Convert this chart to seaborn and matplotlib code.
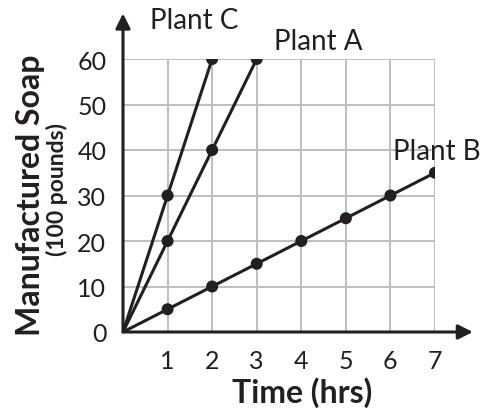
import pandas as pd
import matplotlib
matplotlib.use("Agg")
import matplotlib.pyplot as plt
import seaborn as sns

# data
hours = [0, 1, 2, 3, 4, 5, 6, 7]
plant_a = [0, 20, 40, 60]
plant_b = [0, 5, 10, 15, 20, 25, 30, 35]
plant_c = [0, 30, 60]
x_ticks = [1, 2, 3, 4, 5, 6, 7]
y_ticks = [0, 10, 20, 30, 40, 50, 60]

rows = []
for name, vals in [("Plant A", plant_a), ("Plant B", plant_b), ("Plant C", plant_c)]:
    for h, v in zip(hours, vals):
        rows.append({"plant": name, "hours": h, "soap": v})
df = pd.DataFrame(rows)

ink = "#231f20"

sns.set_style("white")
plt.rcParams["font.family"] = ["Lato", "DejaVu Sans"]

fig = plt.figure(figsize=(4.85, 4.14), dpi=100)
ax = fig.add_axes([123 / 485, 81 / 414, 312 / 485, 273 / 414])

pal = {"Plant A": ink, "Plant B": ink, "Plant C": ink}
sns.lineplot(data=df, x="hours", y="soap", hue="plant", palette=pal,
             linewidth=2.2, legend=False, ax=ax, zorder=3)
sns.scatterplot(data=df[df["hours"] > 0], x="hours", y="soap", hue="plant",
                palette=pal, s=75, edgecolor="none", legend=False, ax=ax, zorder=4)

ax.set_xlim(0, 7)
ax.set_ylim(0, 60)
ax.set_xticks(x_ticks)
ax.set_yticks(y_ticks)
ax.grid(True, color="#bcbec0", linewidth=1.4)
ax.tick_params(length=0, labelsize=18, colors=ink, pad=12)
for s in ax.spines.values():
    s.set_visible(False)

# axis arrows
arrow = dict(arrowstyle="-|>", color=ink, lw=2.2, mutation_scale=22,
             shrinkA=0, shrinkB=0)
ax.annotate("", xy=(7.85, 0), xytext=(0, 0), arrowprops=arrow, annotation_clip=False)
ax.annotate("", xy=(0, 70), xytext=(0, 0), arrowprops=arrow, annotation_clip=False)

ax.set_xlabel("")
ax.set_ylabel("")
fig.text(302 / 485, 1 - 393 / 414, "Time (hrs)", fontsize=23, fontweight="bold",
         color=ink, ha="center", va="center")
fig.text(31 / 485, 1 - 195 / 414, "Manufactured Soap", rotation=90, fontsize=23,
         fontweight="bold", color=ink, ha="center", va="center")
fig.text(57 / 485, 1 - 190 / 414, "(100 pounds)", rotation=90, fontsize=16.5,
         fontweight="bold", color=ink, ha="center", va="center")

ax.text(1.6, 66.8, "Plant C", fontsize=20, ha="center", va="baseline", color=ink)
ax.text(4.38, 62.2, "Plant A", fontsize=20, ha="center", va="baseline", color=ink)
ax.text(7.05, 38.0, "Plant B", fontsize=20, ha="center", va="baseline", color=ink)

fig.savefig("out.png", dpi=100)
